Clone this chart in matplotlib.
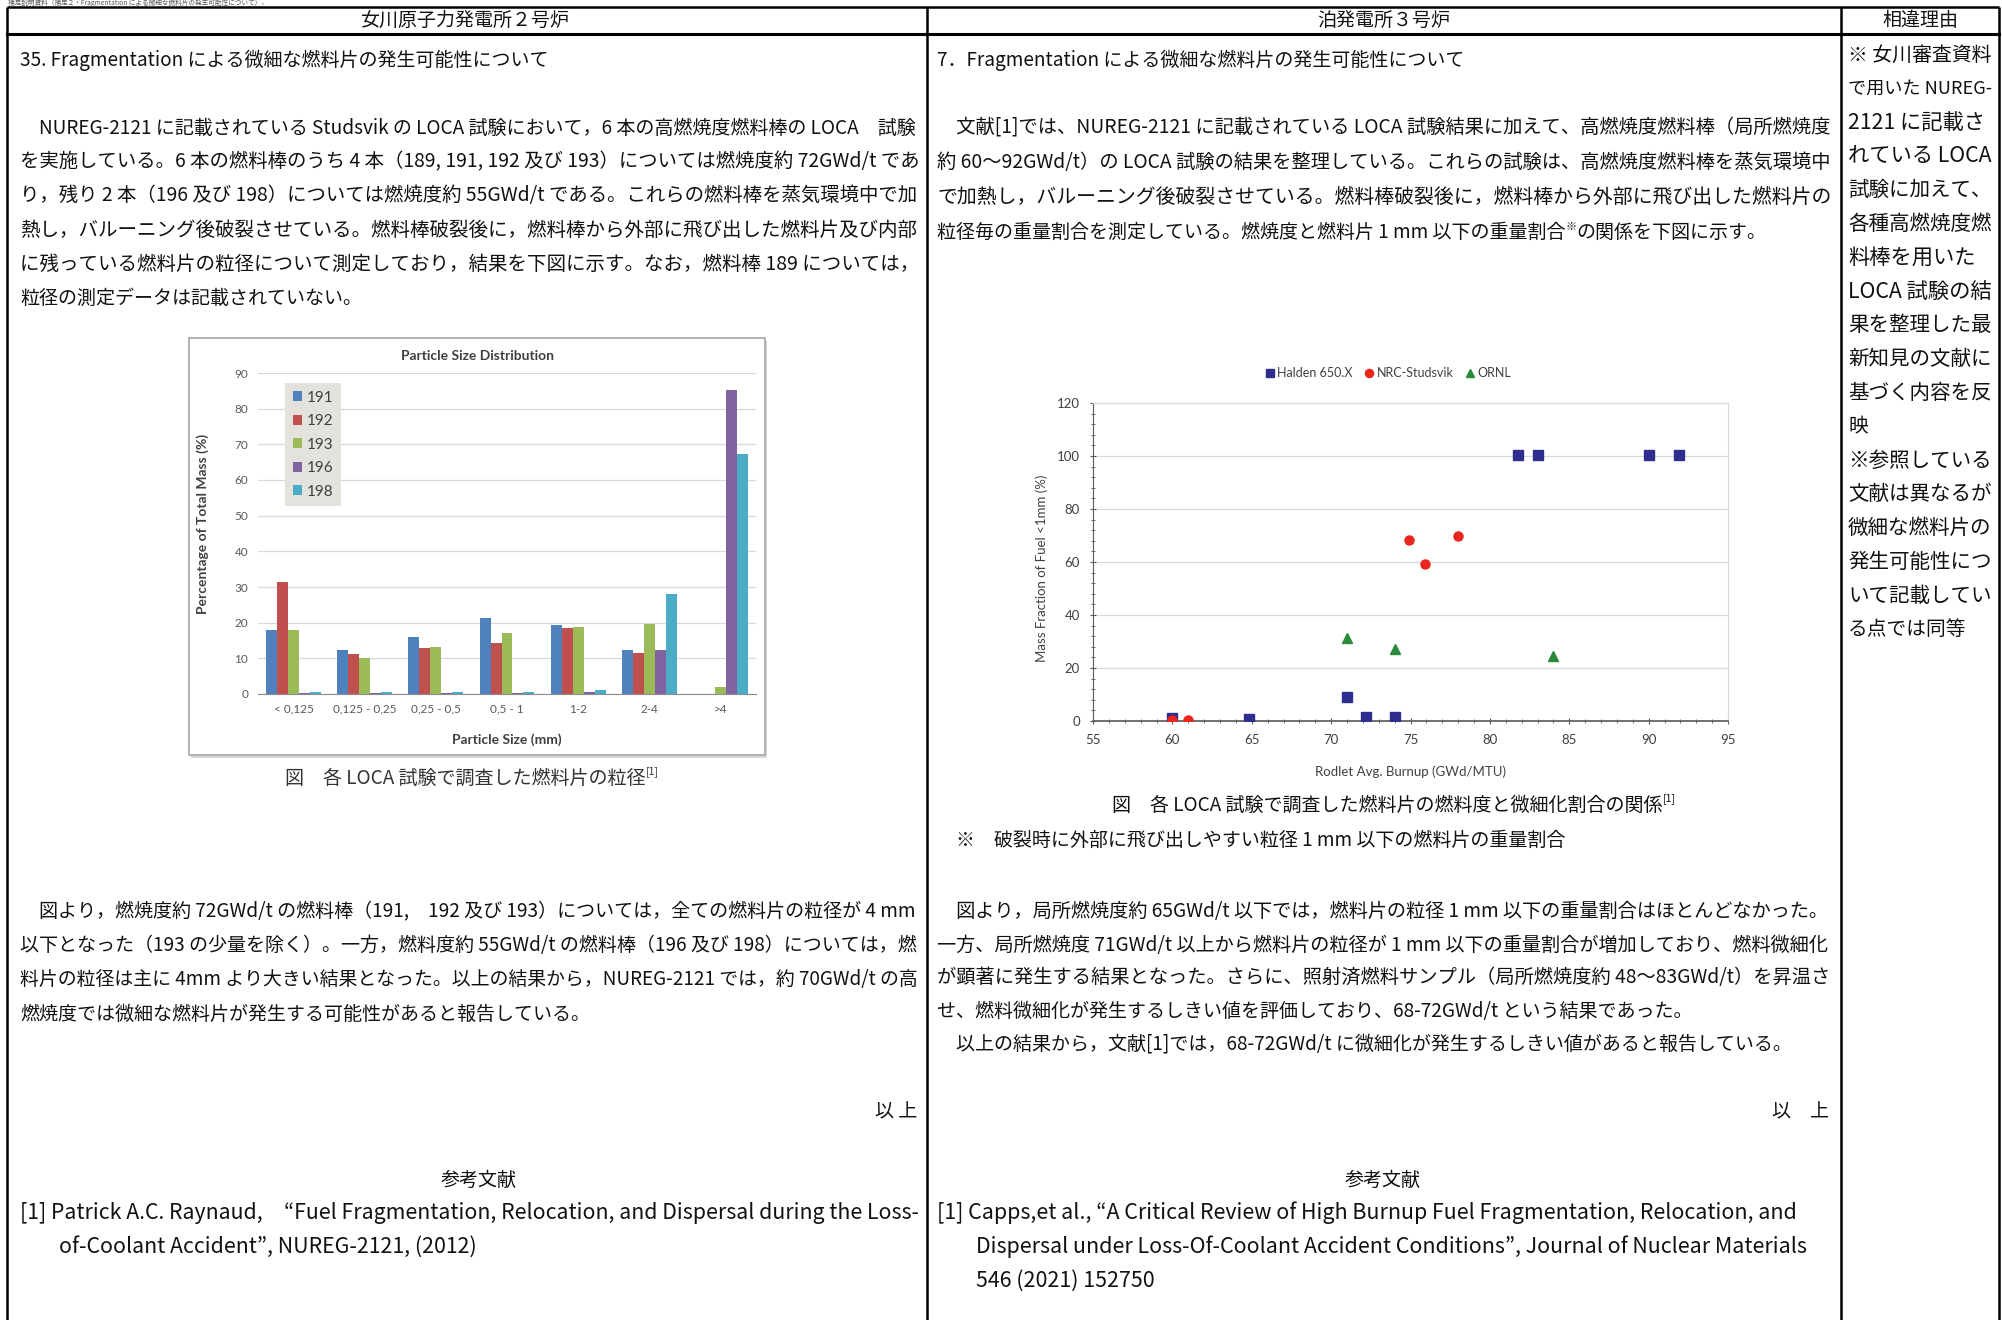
import matplotlib
matplotlib.use('Agg')
import matplotlib.pyplot as plt
from matplotlib.patches import Rectangle
from matplotlib.ticker import MultipleLocator

W, H = 2002, 1320
JP = ['Noto Sans CJK JP', 'DejaVu Sans']
EN = ['Lato', 'DejaVu Sans']
INK = '#111111'
BODY = 13.7
plt.rcParams['font.family'] = JP

# --- left chart: particle size distribution (NUREG-2121) ---
size_bins = ['< 0,125', '0,125 - 0,25', '0,25 - 0,5', '0,5 - 1', '1-2', '2-4', '>4']
rods = ['191', '192', '193', '196', '198']
rod_colors = ['#4f81bd', '#c0504d', '#9bbb59', '#8064a2', '#4bacc6']
mass_191 = [18.0, 12.2, 16.1, 21.3, 19.4, 12.4, 0.0]
mass_192 = [31.4, 11.2, 12.9, 14.3, 18.5, 11.5, 0.0]
mass_193 = [18.0, 10.1, 13.3, 17.1, 18.9, 19.7, 2.0]
mass_196 = [0.3, 0.4, 0.3, 0.3, 0.6, 12.2, 85.2]
mass_198 = [0.6, 0.6, 0.6, 0.6, 1.1, 28.0, 67.4]

# --- right chart: mass fraction < 1mm vs burnup ---
halden_x = [60, 64.8, 71, 72.2, 74, 81.8, 83, 90, 91.9]
halden_y = [1.0, 0.7, 8.9, 1.6, 1.6, 100.4, 100.4, 100.4, 100.4]
studsvik_x = [60, 61, 74.9, 75.9, 78]
studsvik_y = [0.4, 0.3, 68.2, 59.1, 69.7]
ornl_x = [71, 74, 84]
ornl_y = [31.2, 27.2, 24.7]

# --- page text ---
headers = ['女川原子力発電所２号炉', '泊発電所３号炉', '相違理由']

left_title = '35. Fragmentation による微細な燃料片の発生可能性について'
left_para1 = [
    '　NUREG-2121 に記載されている Studsvik の LOCA 試験において，6 本の高燃焼度燃料棒の LOCA　試験',
    'を実施している。6 本の燃料棒のうち 4 本（189, 191, 192 及び 193）については燃焼度約 72GWd/t であ',
    'り，残り 2 本（196 及び 198）については燃焼度約 55GWd/t である。これらの燃料棒を蒸気環境中で加',
    '熱し，バルーニング後破裂させている。燃料棒破裂後に，燃料棒から外部に飛び出した燃料片及び内部',
    'に残っている燃料片の粒径について測定しており，結果を下図に示す。なお，燃料棒 189 については，',
    '粒径の測定データは記載されていない。',
]
left_caption = '図　各 LOCA 試験で調査した燃料片の粒径'
left_para2 = [
    '　図より，燃焼度約 72GWd/t の燃料棒（191,　192 及び 193）については，全ての燃料片の粒径が 4 mm',
    '以下となった（193 の少量を除く）。一方，燃料度約 55GWd/t の燃料棒（196 及び 198）については，燃',
    '料片の粒径は主に 4mm より大きい結果となった。以上の結果から，NUREG-2121 では，約 70GWd/t の高',
    '燃焼度では微細な燃料片が発生する可能性があると報告している。',
]
left_refs = [
    '[1] Patrick A.C. Raynaud,　“Fuel Fragmentation, Relocation, and Dispersal during the Loss-',
    'of-Coolant Accident”, NUREG-2121, (2012)',
]

mid_title = '7．Fragmentation による微細な燃料片の発生可能性について'
mid_para1 = [
    '　文献[1]では、NUREG-2121 に記載されている LOCA 試験結果に加えて、高燃焼度燃料棒（局所燃焼度',
    '約 60～92GWd/t）の LOCA 試験の結果を整理している。これらの試験は、高燃焼度燃料棒を蒸気環境中',
    'で加熱し，バルーニング後破裂させている。燃料棒破裂後に，燃料棒から外部に飛び出した燃料片の',
]
mid_para1_last = ['粒径毎の重量割合を測定している。燃焼度と燃料片 1 mm 以下の重量割合', '※', 'の関係を下図に示す。']
mid_caption = '図　各 LOCA 試験で調査した燃料片の燃料度と微細化割合の関係'
mid_note = '※　破裂時に外部に飛び出しやすい粒径 1 mm 以下の燃料片の重量割合'
mid_para2 = [
    '　図より，局所燃焼度約 65GWd/t 以下では，燃料片の粒径 1 mm 以下の重量割合はほとんどなかった。',
    '一方、局所燃焼度 71GWd/t 以上から燃料片の粒径が 1 mm 以下の重量割合が増加しており、燃料微細化',
    'が顕著に発生する結果となった。さらに、照射済燃料サンプル（局所燃焼度約 48～83GWd/t）を昇温さ',
    'せ、燃料微細化が発生するしきい値を評価しており、68-72GWd/t という結果であった。',
    '　以上の結果から，文献[1]では，68-72GWd/t に微細化が発生するしきい値があると報告している。',
]
mid_refs = [
    '[1] Capps,et al., “A Critical Review of High Burnup Fuel Fragmentation, Relocation, and',
    'Dispersal under Loss-Of-Coolant Accident Conditions”, Journal of Nuclear Materials',
    '546 (2021) 152750',
]

reason_lines = ['※ 女川審査資料', 'で用いた NUREG-', '2121 に記載さ', 'れている LOCA', '試験に加えて、',
                '各種高燃焼度燃', '料棒を用いた', 'LOCA 試験の結', '果を整理した最', '新知見の文献に',
                '基づく内容を反', '映', '※参照している', '文献は異なるが', '微細な燃料片の',
                '発生可能性につ', 'いて記載してい', 'る点では同等']

fig = plt.figure(figsize=(W / 100, H / 100), dpi=100)
page = fig.add_axes([0, 0, 1, 1])
page.set_xlim(0, W)
page.set_ylim(H, 0)
page.axis('off')
renderer = fig.canvas.get_renderer()


def put(x, y, s, size=BODY, ha='left', fit=None, color=INK, lo=0.85, hi=1.22, **kw):
    t = page.text(x, y, s, fontsize=size, ha=ha, va='center', color=color, **kw)
    if fit:
        w = t.get_window_extent(renderer).width
        t.set_fontsize(size * min(max(fit / w, lo), hi))
    return t


def put_runs(x, y, runs, ha='left', color=INK):
    # runs: (text, size, dy) drawn one after another
    items = []
    for s, sz, dy in runs:
        t = page.text(0, y + dy, s, fontsize=sz, va='center', color=color)
        items.append((t, t.get_window_extent(renderer).width))
    total = sum(w for _, w in items)
    cx = x - total / 2 if ha == 'center' else x
    for t, w in items:
        t.set_x(cx)
        cx += w


# table frame
lk = dict(color='black', lw=1.8, solid_capstyle='butt')
page.plot([7, 1999], [7, 7], **lk)
page.plot([7, 1999], [34, 34], color='black', lw=2.2)
for xv in [7, 927, 1841, 1999]:
    page.plot([xv, xv], [7, H], **lk)

# running header squeezed above the table
put(8, 3, '補足説明資料（補足２・Fragmentation による微細な燃料片の発生可能性について），', size=4.8, color='#555555')

put(465, 20, headers[0], ha='center')
put(1384, 20, headers[1], ha='center')
put(1920, 20, headers[2], ha='center')

# left column
LX, LW = 20, 897
put(LX, 60, left_title)
for i, s in enumerate(left_para1):
    put(LX, 128 + i * 34, s, fit=LW if i < len(left_para1) - 1 else None)
put_runs(472, 778, [(left_caption, BODY, 0), ('[1]', 7.5, -6)], ha='center', color='#333333')
for i, s in enumerate(left_para2):
    put(LX, 912 + i * 34, s, fit=LW if i < len(left_para2) - 1 else None)
put(917, 1112, '以 上', ha='right')
put(479, 1180, '参考文献', ha='center')
r1 = put(LX, 1213, left_refs[0], fit=LW, hi=1.3)
put(59, 1247, left_refs[1], size=r1.get_fontsize())

# middle column
MX, MW = 937, 893
put(MX, 60, mid_title)
for i, s in enumerate(mid_para1):
    put(MX, 128 + i * 34.5, s, fit=MW)
put_runs(MX, 232, [(mid_para1_last[0], BODY, 0), (mid_para1_last[1], 8, -5), (mid_para1_last[2], BODY, 0)])
put_runs(1394, 805, [(mid_caption, BODY, 0), ('[1]', 7.5, -6)], ha='center')
put(956, 840, mid_note)
for i, s in enumerate(mid_para2):
    put(MX, 912 + i * 33, s, fit=MW if i < 3 else None)
put(1829, 1112, '以　上', ha='right')
put(1383, 1180, '参考文献', ha='center')
r2 = put(MX, 1213, mid_refs[0], fit=860, hi=1.3)
put(976, 1247, mid_refs[1], size=r2.get_fontsize())
put(976, 1281, mid_refs[2], size=r2.get_fontsize())

# reasons column
for i, s in enumerate(reason_lines):
    full = s not in ('映', 'る点では同等')
    put(1848, 55 + i * 33.8, s, size=14.2, fit=144 if full else None, lo=0.9, hi=1.08)

# ---------- left chart ----------
page.add_patch(Rectangle((191, 341), 576, 417, fc='#d9d9d9', ec='none'))
page.add_patch(Rectangle((189, 338), 576, 417, fc='white', ec='#a6a6a6', lw=1.2))

ax1 = fig.add_axes([258 / W, 1 - 694 / H, (756 - 258) / W, (694 - 373) / H])
ax1.set_facecolor('none')
bw = 0.154
series = [mass_191, mass_192, mass_193, mass_196, mass_198]
for k, (vals, c, lab) in enumerate(zip(series, rod_colors, rods)):
    xs = [i + (k - 2) * bw for i in range(len(size_bins))]
    ax1.bar(xs, vals, width=bw, color=c, label=lab, zorder=3)
ax1.set_xlim(-0.5, 6.5)
ax1.set_ylim(0, 90)
ax1.set_yticks(range(0, 91, 10))
ax1.set_xticks(range(len(size_bins)))
ax1.set_xticklabels(size_bins)
ax1.grid(axis='y', color='#d9d9d9', lw=0.9, zorder=0)
for sp in ['top', 'right', 'left']:
    ax1.spines[sp].set_visible(False)
ax1.spines['bottom'].set_color('#8c8c8c')
ax1.tick_params(length=0, labelsize=8.5, labelcolor='#595959', pad=7)
for lbl in ax1.get_xticklabels() + ax1.get_yticklabels():
    lbl.set_family(EN)
ax1.set_title('Particle Size Distribution', family=EN, fontsize=10, fontweight='bold',
              color='#404040', pad=9)
ax1.title.set_position((0.44, 1))
ax1.set_xlabel('Particle Size (mm)', family=EN, fontsize=10, fontweight='bold', color='#404040')
ax1.xaxis.set_label_coords(0.5, -(733 - 694) / (694 - 373))
ax1.set_ylabel('Percentage of Total Mass (%)', family=EN, fontsize=10, fontweight='bold', color='#404040')
ax1.yaxis.set_label_coords((209 - 258) / (756 - 258), 0.53)
ax1.legend(loc='upper left', bbox_to_anchor=(285 / W, 1 - 383 / H), bbox_transform=fig.transFigure,
           prop={'family': EN, 'size': 11}, handlelength=0.6, handleheight=0.6, handletextpad=0.35,
           labelspacing=0.62, borderpad=0.5, borderaxespad=0, fancybox=False, framealpha=1,
           facecolor='#e4e2dc', edgecolor='none', labelcolor='#404040')

# ---------- right chart ----------
ax2 = fig.add_axes([1093 / W, 1 - 721 / H, (1728 - 1093) / W, (721 - 403) / H])
ax2.set_facecolor('none')
ax2.plot(halden_x, halden_y, ls='none', marker='s', ms=6.5, color='#2e2e8e', label='Halden 650.X', zorder=4)
ax2.plot(studsvik_x, studsvik_y, ls='none', marker='o', ms=6.5, color='#e8261c', label='NRC-Studsvik', zorder=4)
ax2.plot(ornl_x, ornl_y, ls='none', marker='^', ms=6.5, color='#2a8a3c', label='ORNL', zorder=4)
ax2.set_xlim(55, 95)
ax2.set_ylim(0, 120)
ax2.xaxis.set_major_locator(MultipleLocator(5))
ax2.xaxis.set_minor_locator(MultipleLocator(1))
ax2.yaxis.set_major_locator(MultipleLocator(20))
ax2.yaxis.set_minor_locator(MultipleLocator(4))
ax2.grid(axis='y', which='major', color='#d9d9d9', lw=0.9, zorder=0)
ax2.spines['left'].set_color('#5a5a5a')
ax2.spines['bottom'].set_color('#5a5a5a')
ax2.spines['bottom'].set_linewidth(1.2)
ax2.spines['top'].set_color('#d9d9d9')
ax2.spines['right'].set_color('#d9d9d9')
ax2.tick_params(which='both', direction='inout', color='#5a5a5a', labelsize=9.5, labelcolor='#404040')
ax2.tick_params(which='major', length=5, pad=7)
ax2.tick_params(which='minor', length=3)
ax2.tick_params(top=False, right=False, which='both')
for lbl in ax2.get_xticklabels() + ax2.get_yticklabels():
    lbl.set_family(EN)
ax2.set_xlabel('Rodlet Avg. Burnup (GWd/MTU)', family=EN, fontsize=9.5, color='#404040')
ax2.xaxis.set_label_coords(0.5, -(765 - 721) / (721 - 403))
ax2.set_ylabel('Mass Fraction of Fuel <1mm (%)', family=EN, fontsize=9.5, color='#404040')
ax2.yaxis.set_label_coords((1048 - 1093) / (1728 - 1093), 0.48)
ax2.legend(loc='center', bbox_to_anchor=(1388 / W, 1 - 373 / H), bbox_transform=fig.transFigure,
           ncol=3, frameon=False, prop={'family': EN, 'size': 9}, handlelength=0.8, handletextpad=0.2,
           columnspacing=0.9, labelcolor='#404040', markerscale=0.9)

fig.savefig('out.png', dpi=100)
